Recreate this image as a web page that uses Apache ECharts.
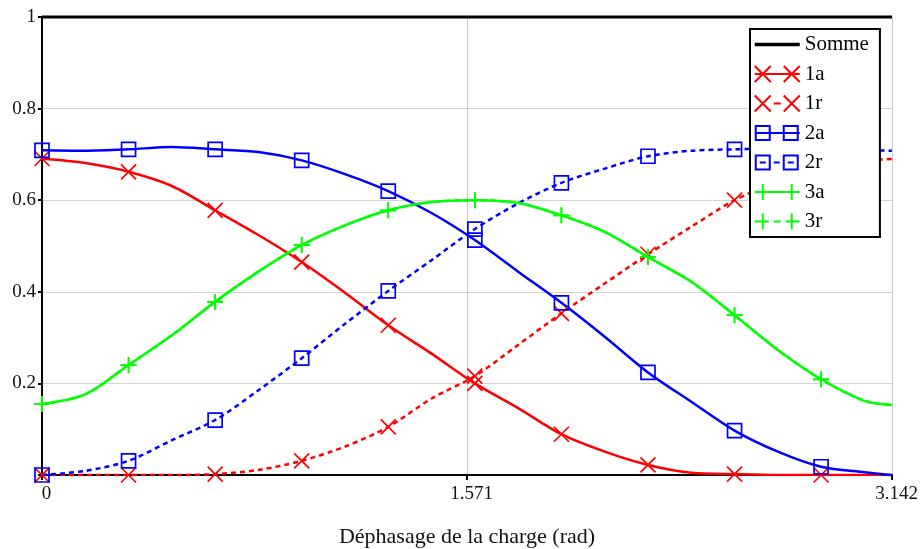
<!DOCTYPE html>
<html><head><meta charset="utf-8">
<script src="https://cdn.jsdelivr.net/npm/echarts@6/dist/echarts.min.js"></script>
<style>html,body{margin:0;padding:0;background:#fff}#c{width:920px;height:549px}</style>
</head><body><div id="c"></div>
<script>
// x positions (rad) of the sampled points; markers sit on every other point
const xValues = [0, 0.16, 0.32, 0.48, 0.64, 0.80, 0.96, 1.12, 1.28, 1.44, 1.60, 1.76, 1.92, 2.08, 2.24, 2.40, 2.56, 2.72, 2.88, 3.04, 3.1416];
const s1a = [0.691, 0.681, 0.662, 0.631, 0.578, 0.524, 0.465, 0.398, 0.327, 0.265, 0.200, 0.146, 0.089, 0.051, 0.022, 0.005, 0.002, 0, 0, 0, 0];
const s1r = [0, 0, 0, 0, 0.002, 0.011, 0.031, 0.062, 0.105, 0.167, 0.216, 0.284, 0.353, 0.418, 0.482, 0.542, 0.600, 0.640, 0.668, 0.686, 0.690];
const s2a = [0.709, 0.708, 0.711, 0.716, 0.711, 0.705, 0.687, 0.657, 0.620, 0.572, 0.513, 0.444, 0.376, 0.302, 0.224, 0.160, 0.097, 0.051, 0.018, 0.006, 0];
const s2r = [0, 0.009, 0.031, 0.076, 0.120, 0.185, 0.255, 0.330, 0.402, 0.469, 0.537, 0.593, 0.638, 0.669, 0.696, 0.708, 0.711, 0.713, 0.711, 0.709, 0.708];
const s3a = [0.155, 0.176, 0.240, 0.305, 0.378, 0.444, 0.502, 0.545, 0.578, 0.596, 0.600, 0.594, 0.567, 0.531, 0.476, 0.422, 0.349, 0.273, 0.209, 0.162, 0.153];
const s3r = [0.155, 0.176, 0.240, 0.305, 0.378, 0.444, 0.502, 0.545, 0.578, 0.596, 0.600, 0.594, 0.567, 0.531, 0.476, 0.422, 0.349, 0.273, 0.209, 0.162, 0.153];
const sommeX = [0, 3.142];
const sommeY = [1, 1];
const seriesNames = ['Somme', '1a', '1r', '2a', '2r', '3a', '3r'];
const xTickLabels = ['0', '1.571', '3.142'];
const yTickLabels = ['', '0.2', '0.4', '0.6', '0.8', '1'];
const xAxisTitle = 'Déphasage de la charge (rad)';

const RED = '#ff0000', BLUE = '#0000ff', GREEN = '#00ff00';
const FONT = '"Liberation Serif", "Times New Roman", serif';
const SYM_X = 'path://M0,0L10,10M10,0L0,10';
const SYM_SQ = 'path://M0,0L10,0L10,10L0,10Z';
const SYM_PLUS = 'path://M5,0L5,10M0,5L10,5';
const DASH = [5, 4];

function mk(name, ys, color, sym, size, dashed, z) {
  return {
    name: name, type: 'line', smooth: 0.3,
    data: xValues.map(function (x, i) {
      const item = { value: [x, ys[i]] };
      if (i % 2 === 1 || i === xValues.length - 1) item.symbol = 'none';
      return item;
    }),
    symbol: sym, symbolSize: size, showAllSymbol: true,
    itemStyle: { color: 'rgba(0,0,0,0)', borderColor: color, borderWidth: 1.7 },
    lineStyle: { color: color, width: 2.5, type: dashed ? DASH : 'solid' },
    emphasis: { disabled: true }, z: z
  };
}

const series = [
  {
    name: 'Somme', type: 'line', clip: false,
    data: sommeX.map(function (x, i) { return [x, sommeY[i]]; }),
    symbol: 'none', lineStyle: { color: '#000', width: 3 },
    itemStyle: { color: '#000' }, emphasis: { disabled: true }, z: 5
  },
  mk('1a', s1a, RED, SYM_X, 15, false, 3),
  mk('1r', s1r, RED, SYM_X, 15, true, 3),
  mk('2a', s2a, BLUE, SYM_SQ, 14, false, 3),
  mk('2r', s2r, BLUE, SYM_SQ, 14, true, 3),
  mk('3a', s3a, GREEN, SYM_PLUS, 16, false, 4),
  mk('3r', s3r, GREEN, SYM_PLUS, 16, true, 3)
];

const B = 'M0,0M45,16';
const legendIcons = [
  'path://' + B + 'M0,8L45,8',
  'path://' + B + 'M0,0L16,16M0,16L16,0M29,0L45,16M29,16L45,0M0,8L45,8',
  'path://' + B + 'M0,0L16,16M0,16L16,0M29,0L45,16M29,16L45,0M19,8L26,8',
  'path://' + B + 'M1,1L15,1L15,15L1,15ZM29,1L43,1L43,15L29,15ZM0,8L45,8',
  'path://' + B + 'M1,1L15,1L15,15L1,15ZM29,1L43,1L43,15L29,15ZM5,8L11,8M19,8L25,8M33,8L39,8',
  'path://' + B + 'M8,0L8,16M37,0L37,16M0,8L45,8',
  'path://' + B + 'M8,0L8,16M37,0L37,16M0,8L14,8M19,8L26,8M31,8L45,8'
];
const legendColors = ['#000', RED, RED, BLUE, BLUE, GREEN, GREEN];

const chart = echarts.init(document.getElementById('c'), null, { renderer: 'canvas' });
chart.setOption({
  animation: false,
  backgroundColor: '#fff',
  grid: { left: 42, right: 28, top: 17, bottom: 74, outerBoundsMode: 'none', containLabel: false },
  legend: {
    orient: 'vertical', left: 750, top: 29,
    padding: [5, 11, 5, 3], itemGap: 8.5, itemWidth: 45, itemHeight: 16,
    backgroundColor: '#fff', borderColor: '#000', borderWidth: 2, borderRadius: 0,
    selectedMode: false,
    textStyle: { fontFamily: FONT, fontSize: 21, color: '#000' },
    data: seriesNames.map(function (n, i) {
      return {
        name: n, icon: legendIcons[i],
        itemStyle: { color: 'rgba(0,0,0,0)', borderColor: legendColors[i], borderWidth: i === 0 ? 3.5 : 2 }
      };
    })
  },
  xAxis: {
    type: 'value', min: 0, max: 3.142, interval: 1.571,
    name: xAxisTitle, nameLocation: 'middle', nameGap: 51,
    nameTextStyle: { fontFamily: FONT, fontSize: 22, color: '#111' },
    axisLine: { show: true, onZero: false, lineStyle: { color: '#000', width: 2 } },
    axisTick: { show: true, length: 5, lineStyle: { color: '#000', width: 2 } },
    axisLabel: {
      fontFamily: FONT, fontSize: 19, color: '#111', margin: 10, padding: [0, 0, 0, 9],
      showMinLabel: true, showMaxLabel: true,
      formatter: function (v, i) { return xTickLabels[i]; }
    },
    splitLine: { show: true, lineStyle: { color: '#c8c8c8', width: 1 } }
  },
  yAxis: {
    type: 'value', min: 0, max: 1, interval: 0.2,
    axisLine: { show: true, onZero: false, lineStyle: { color: '#000', width: 2 } },
    axisTick: { show: true, length: 4, lineStyle: { color: '#000', width: 2 } },
    axisLabel: {
      fontFamily: FONT, fontSize: 19, color: '#111', margin: 6,
      showMinLabel: true, showMaxLabel: true,
      formatter: function (v, i) { return yTickLabels[i]; }
    },
    splitLine: { show: true, lineStyle: { color: '#d4d4d4', width: 1 } }
  },
  series: series
});
</script>
</body></html>
